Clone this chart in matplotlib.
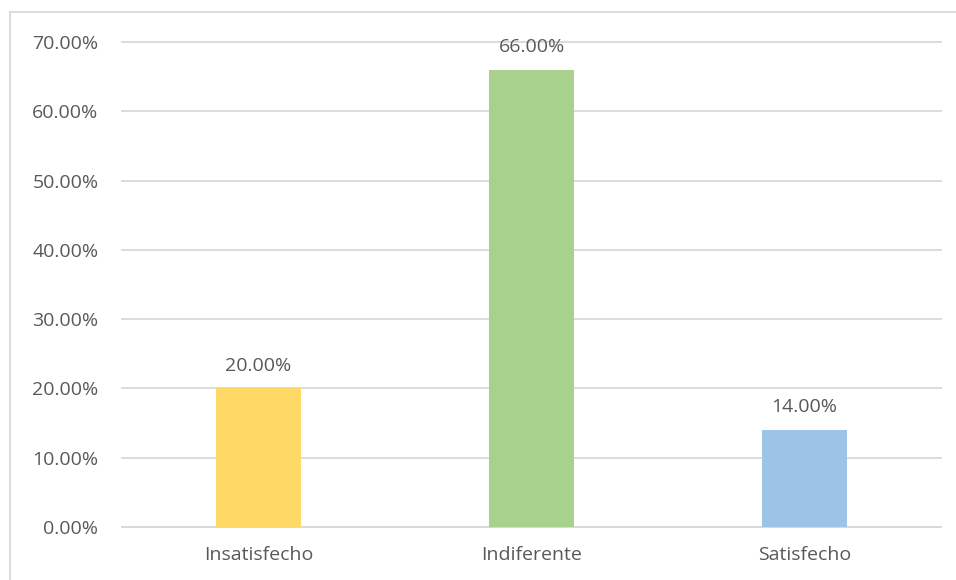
import matplotlib
matplotlib.use("Agg")
import matplotlib.pyplot as plt
from matplotlib.patches import Rectangle
from matplotlib.ticker import FuncFormatter, MultipleLocator

categories = ["Insatisfecho", "Indiferente", "Satisfecho"]
values = [0.20, 0.66, 0.14]
bar_colors = ["#FFD966", "#A9D18E", "#9DC3E6"]

TEXT = "#595959"
GRID = "#D9D9D9"
plt.rcParams["font.family"] = ["Open Sans", "DejaVu Sans"]

W, H = 956, 580
fig = plt.figure(figsize=(W / 100, H / 100), dpi=100)

# chart frame
fig.patches.append(Rectangle((10 / W, -0.2), 2.0, 1.2 - 12 / H,
                             transform=fig.transFigure, fill=False,
                             edgecolor=GRID, linewidth=1.3))

ax = fig.add_axes([122 / W, 1 - 527 / H, (941 - 122) / W, (527 - 42) / H])
x = range(len(categories))
bars = ax.bar(x, values, width=0.315, color=bar_colors, zorder=3)

ax.set_xlim(-0.5, len(categories) - 0.5)
ax.set_ylim(0, 0.70)
ax.yaxis.set_major_locator(MultipleLocator(0.10))
ax.yaxis.set_major_formatter(FuncFormatter(lambda v, _: f"{v * 100:.2f}%"))
ax.grid(axis="y", color=GRID, linewidth=1.3, zorder=0)
ax.set_axisbelow(True)
for gl in ax.get_ygridlines():
    gl.set_clip_on(False)

for s in ["top", "right", "left"]:
    ax.spines[s].set_visible(False)
ax.spines["bottom"].set_color(GRID)
ax.spines["bottom"].set_linewidth(1.3)

ax.set_xticks(list(x))
ax.set_xticklabels(categories)
ax.tick_params(axis="both", length=0, labelsize=14, colors=TEXT)
ax.tick_params(axis="y", pad=17)
ax.tick_params(axis="x", pad=14)

for rect, v in zip(bars, values):
    ax.annotate(f"{v * 100:.2f}%", (rect.get_x() + rect.get_width() / 2, v),
                xytext=(0, 10), textcoords="offset points",
                ha="center", va="bottom", fontsize=14, color=TEXT)

fig.savefig("out.png", dpi=100, facecolor="white")
